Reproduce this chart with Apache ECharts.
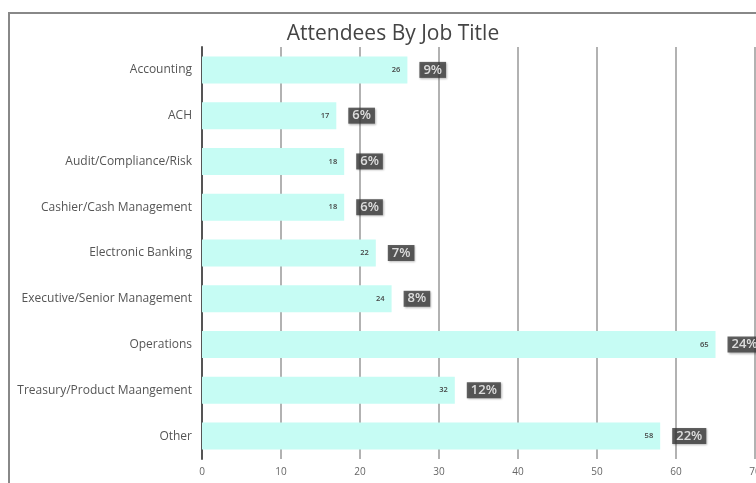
<!DOCTYPE html>
<html><head><meta charset="utf-8">
<style>html,body{margin:0;padding:0;background:#fff}#c{width:756px;height:483px}</style>
<script src="https://cdn.jsdelivr.net/npm/echarts@6/dist/echarts.min.js"></script>
</head><body><div id="c"></div>
<script>
var categories = ["Accounting","ACH","Audit/Compliance/Risk","Cashier/Cash Management","Electronic Banking","Executive/Senior Management","Operations","Treasury/Product Maangement","Other"];
var counts = [26,17,18,18,22,24,65,32,58];
var percents = ["9%","6%","6%","6%","7%","8%","24%","12%","22%"];
var xTicks = [0,10,20,30,40,50,60,70];

var chart = echarts.init(document.getElementById('c'));
var font = '"Open Sans", Lato, sans-serif';
chart.setOption({
  animation:false,
  graphic:[
    {type:'line',shape:{x1:9,y1:13,x2:9,y2:483},style:{stroke:'#888',lineWidth:2}},
    {type:'line',shape:{x1:8,y1:13,x2:756,y2:13},style:{stroke:'#888',lineWidth:2}}
  ],
  title:{text:'Attendees By Job Title',left:388,top:19,textAlign:'center',
    textStyle:{fontFamily:font,fontSize:21,fontWeight:'normal',color:'#444'}},
  grid:{left:202,right:1,top:47,bottom:24,containLabel:false,outerBoundsMode:'none'},
  xAxis:{type:'value',min:0,max:70,interval:10,position:'bottom',
    axisLine:{show:false},axisTick:{show:false},
    axisLabel:{color:'#666',fontFamily:font,fontSize:10,margin:8},
    splitLine:{show:true,lineStyle:{color:'#999',width:1.5}}},
  yAxis:{type:'category',data:categories,inverse:true,
    axisLine:{show:true,lineStyle:{color:'#555',width:2}},
    axisTick:{show:false},
    axisLabel:{color:'#555',fontFamily:font,fontSize:12,margin:10,padding:[3,0,0,0]}},
  series:[
    {type:'bar',data:counts,barWidth:'59%',itemStyle:{color:'#c6fcf4'},
      z:3,
      label:{show:true,position:'insideRight',distance:7,color:'#444',fontSize:7.5,fontWeight:600,fontFamily:font}},
    {type:'scatter',symbolSize:0,z:5,
      data:counts.map(function(v,i){return [v,categories[i]];}),
      label:{show:true,position:'right',distance:12,
        formatter:function(p){return percents[p.dataIndex];},
        color:'#fff',fontSize:13,fontFamily:font,fontWeight:600,
        backgroundColor:'#3b3b3b',padding:[2,4,1,4],
        shadowColor:'rgba(0,0,0,0.35)',shadowBlur:2,shadowOffsetX:1,shadowOffsetY:1}}
  ]
});
</script></body></html>
